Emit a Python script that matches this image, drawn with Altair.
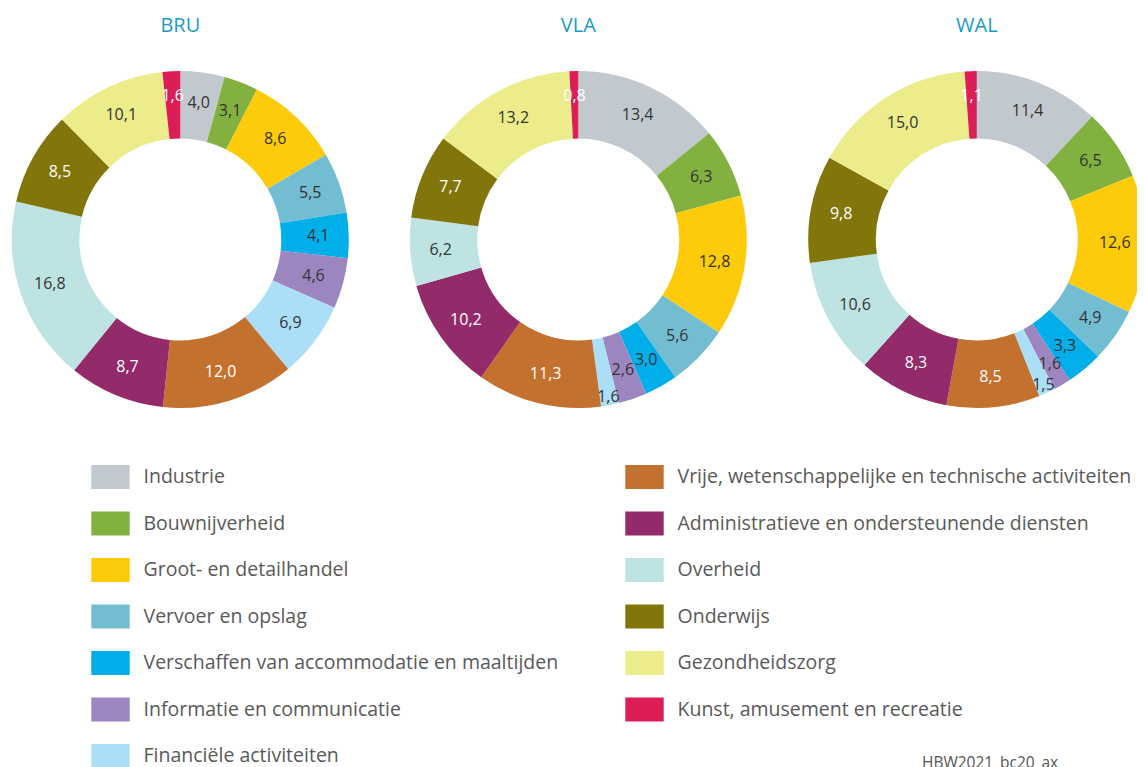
import altair as alt
import pandas as pd

FONT = "Open Sans"

regions = ["BRU", "VLA", "WAL"]
categories = [
    "Industrie",
    "Bouwnijverheid",
    "Groot- en detailhandel",
    "Vervoer en opslag",
    "Verschaffen van accommodatie en maaltijden",
    "Informatie en communicatie",
    "Financiële activiteiten",
    "Vrije, wetenschappelijke en technische activiteiten",
    "Administratieve en ondersteunende diensten",
    "Overheid",
    "Onderwijs",
    "Gezondheidszorg",
    "Kunst, amusement en recreatie",
]
bru = [4.0, 3.1, 8.6, 5.5, 4.1, 4.6, 6.9, 12.0, 8.7, 16.8, 8.5, 10.1, 1.6]
vla = [13.4, 6.3, 12.8, 5.6, 3.0, 2.6, 1.6, 11.3, 10.2, 6.2, 7.7, 13.2, 0.8]
wal = [11.4, 6.5, 12.6, 4.9, 3.3, 1.6, 1.5, 8.5, 8.3, 10.6, 9.8, 15.0, 1.1]
colors = [
    "#c1c9cf", "#82b140", "#fecb0a", "#73bdd3", "#00aeea", "#9d86c0", "#abdff8",
    "#c3712e", "#932a69", "#bde4e2", "#82760a", "#ecec8b", "#dc1d56",
]
dark_categories = [
    "Vrije, wetenschappelijke en technische activiteiten",
    "Administratieve en ondersteunende diensten",
    "Onderwijs",
    "Kunst, amusement en recreatie",
]
footer = "HBW2021_bc20_ax"

rows = []
for reg, vals in zip(regions, [bru, vla, wal]):
    for i, (c, v) in enumerate(zip(categories, vals)):
        rows.append({"region": reg, "category": c, "value": v, "idx": i})
df = pd.DataFrame(rows)

# layout (pixels inside the chart area)
CENTER_X = {"BRU": 172.3, "VLA": 570.3, "WAL": 968.8}
CENTER_Y = 231.5
OUTER_R, INNER_R, LABEL_R = 168.5, 101, 138
TITLE_Y = 24

color_scale = alt.Scale(domain=categories, range=colors)
legend = alt.Legend(
    title=None,
    orient="none",
    legendX=90.5,
    legendY=457,
    columns=2,
    symbolType="M-1.6,-1H1.6V1H-1.6Z",
    symbolSize=576,
    symbolStrokeWidth=0,
    symbolOpacity=1,
    labelFont=FONT,
    labelFontSize=19.5,
    labelColor="#595959",
    labelLimit=700,
    labelOffset=21,
    rowPadding=22.5,
    columnPadding=66,
)

layers = []
for region in regions:
    cx = CENTER_X[region]
    arcs = alt.Chart(df).transform_filter(alt.datum.region == region).mark_arc(
        outerRadius=OUTER_R, innerRadius=INNER_R
    ).encode(
        x=alt.value(cx),
        y=alt.value(CENTER_Y),
        theta=alt.Theta("value:Q", stack=True),
        order=alt.Order("idx:Q", sort="ascending"),
        color=alt.Color("category:N", scale=color_scale, legend=legend),
    )
    labels = alt.Chart(df).transform_filter(
        alt.datum.region == region
    ).transform_joinaggregate(
        total="sum(value)"
    ).transform_window(
        cum="sum(value)", sort=[alt.SortField("idx", order="ascending")], frame=[None, 0]
    ).transform_calculate(
        mid="(datum.cum - datum.value / 2) / datum.total",
        lbl="replace(format(datum.value, '.1f'), '.', ',')",
        r=f"datum.value < 2 ? (datum.idx == 6 ? 160 : 144) : {LABEL_R}",
    ).mark_text(fontSize=16, font=FONT).encode(
        x=alt.value(cx),
        y=alt.value(CENTER_Y),
        theta=alt.Theta("mid:Q", scale=alt.Scale(domain=[0, 1]), stack=None),
        radius=alt.Radius("r:Q", scale=None),
        text="lbl:N",
        color=alt.condition(
            alt.FieldOneOfPredicate(field="category", oneOf=dark_categories),
            alt.value("#ffffff"),
            alt.value("#333333"),
        ),
    )
    title = alt.Chart(pd.DataFrame({"t": [region]})).mark_text(
        font=FONT, fontSize=20, fontWeight=500, color="#1b9cc4",
        align="center", baseline="alphabetic",
    ).encode(text="t:N", x=alt.value(cx), y=alt.value(TITLE_Y))
    layers += [arcs, labels, title]

foot = alt.Chart(pd.DataFrame({"t": [footer]})).mark_text(
    font=FONT, fontSize=15.5, color="#555555", align="left", baseline="alphabetic"
).encode(text="t:N", x=alt.value(914), y=alt.value(760))
layers.append(foot)

chart = alt.layer(*layers).resolve_scale(theta="independent").properties(
    width=1129,
    height=775,
    padding=0,
    autosize=alt.AutoSizeParams(type="none"),
).configure_view(stroke=None)

chart.save("out.html", embed_options={"renderer": "svg", "actions": False})
